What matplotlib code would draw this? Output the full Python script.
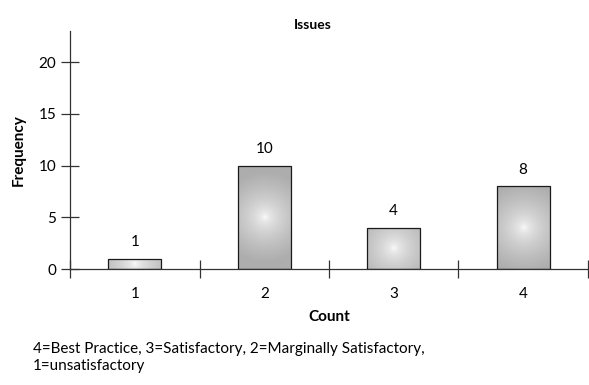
import numpy as np
import matplotlib
matplotlib.use("Agg")
import matplotlib.pyplot as plt

plt.rcParams['font.family'] = ['Lato', 'DejaVu Sans']

categories = ['1', '2', '3', '4']
counts = [1, 10, 4, 8]
footnote = ('4=Best Practice, 3=Satisfactory, 2=Marginally Satisfactory,\n'
            '1=unsatisfactory')

fig = plt.figure(figsize=(5.89, 3.85), dpi=100)
ax = fig.add_axes([0.119, 0.301, 0.879, 0.618])

x = np.arange(1, len(counts) + 1)
bars = ax.bar(x, counts, width=0.41, color='none', edgecolor='#1a1a1a',
              linewidth=0.9, zorder=3)

ax.set_xlim(0.5, 4.5)
ax.set_ylim(0, 23)

# radial shading: white in the middle, grey towards the edges
edge_grey = np.array([0.68, 0.68, 0.68])
for b in bars:
    x0, w = b.get_x(), b.get_width()
    h = b.get_height()
    nx, ny = 120, max(int(120 * h * 10.35 / (w * 129.5)), 10)
    gx = np.linspace(-1, 1, nx) * (w * 129.5 / 2)
    gy = np.linspace(-1, 1, ny) * (h * 10.35 / 2)
    X, Y = np.meshgrid(gx, gy)
    r = np.clip(np.hypot(X, Y) / 45.0, 0, 1) ** 0.55
    img = np.ones((ny, nx, 3)) * (1 - r[..., None]) + edge_grey * r[..., None]
    im = ax.imshow(img, extent=[x0, x0 + w, 0, h], aspect='auto',
                   origin='lower', zorder=2, interpolation='bilinear')
    im.set_clip_path(b)
    ax.text(b.get_x() + w / 2, h + 0.9, str(h), ha='center', va='bottom',
            fontsize=11)

for s in ['top', 'right']:
    ax.spines[s].set_visible(False)
for s in ['left', 'bottom']:
    ax.spines[s].set_color('#333333')
    ax.spines[s].set_linewidth(0.9)

ax.set_yticks([0, 5, 10, 15, 20])
ax.set_xticks(np.arange(0.5, 4.6, 1.0))
ax.set_xticklabels([])
ax.set_xticks(x, minor=True)
ax.set_xticklabels(categories, minor=True)
ax.tick_params(axis='both', which='major', direction='inout', length=13,
               width=0.9, color='#333333', labelsize=11)
ax.tick_params(axis='x', which='minor', length=0, pad=13, labelsize=11)

ax.set_xlabel('Count', fontweight='bold', fontsize=11, labelpad=6)
ax.set_ylabel('Frequency', fontweight='bold', fontsize=11, labelpad=9)
fig.text(0.531, 0.925, 'Issues', ha='center', fontweight='bold', fontsize=10)

fig.text(0.056, 0.03, footnote, ha='left', va='bottom', fontsize=11,
         linespacing=1.3)

fig.savefig('out.png', dpi=100)
